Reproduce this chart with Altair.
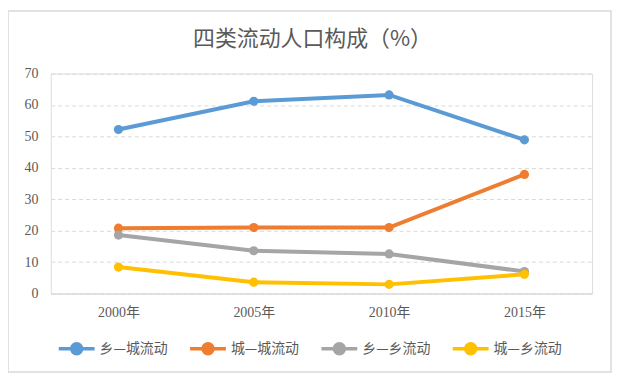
import altair as alt
import pandas as pd

years = ["2000年", "2005年", "2010年", "2015年"]
series = ["乡—城流动", "城—城流动", "乡—乡流动", "城—乡流动"]
rural_urban = [52.2, 61.2, 63.2, 48.9]
urban_urban = [20.8, 21.0, 21.0, 37.9]
rural_rural = [18.6, 13.6, 12.6, 7.0]
urban_rural = [8.4, 3.6, 2.9, 6.1]
colors = ["#5B9BD5", "#ED7D31", "#A5A5A5", "#FFC000"]
y_ticks = [0, 10, 20, 30, 40, 50, 60, 70]

rows = []
for name, vals in zip(series, [rural_urban, urban_urban, rural_rural, urban_rural]):
    for yr, v in zip(years, vals):
        rows.append({"year": yr, "series": name, "value": v})
df = pd.DataFrame(rows)

W, H = 544, 221
num_font = "Liberation Serif, Noto Sans CJK SC"
cjk_font = "Noto Sans CJK SC"
text_color = "#595959"

color_scale = alt.Scale(domain=series, range=colors)

x_enc = alt.X("year:N", sort=years, title=None,
              scale=alt.Scale(paddingInner=0, paddingOuter=0.5),
              axis=alt.Axis(labelAngle=0, ticks=False, domainColor="#D9D9D9",
                            domainWidth=1.2, labelFont=num_font, labelFontSize=14,
                            labelColor=text_color, labelPadding=12, grid=False))
y_enc = alt.Y("value:Q", title=None,
              scale=alt.Scale(domain=[0, 70], nice=False),
              axis=alt.Axis(values=y_ticks, ticks=False, domain=False,
                            grid=True, gridColor="#D9D9D9", gridDash=[4, 3],
                            gridWidth=1, labelFont=num_font, labelFontSize=14,
                            labelColor=text_color, labelPadding=13))

legend = alt.Legend(
    title=None, orient="none", direction="horizontal", legendX=6, legendY=256,
    symbolType="M-1,0L1,0M-0.28,0a0.28,0.28 0 1,0 0.56,0a0.28,0.28 0 1,0 -0.56,0",
    symbolSize=1296, symbolStrokeWidth=3.5, labelFont=cjk_font, labelFontSize=14,
    labelColor=text_color, labelOffset=3, columnPadding=15, labelLimit=200,
)

lines = alt.Chart(df).mark_line(
    strokeWidth=4, point=alt.OverlayMarkDef(filled=True, size=85)
).encode(
    x=x_enc, y=y_enc,
    color=alt.Color("series:N", scale=color_scale, sort=series, legend=legend),
)

border = alt.Chart(pd.DataFrame({"a": [0]})).mark_rect(
    fill=None, stroke="#D9D9D9", strokeWidth=1.5
).encode(x=alt.value(-43), x2=alt.value(563), y=alt.value(-63), y2=alt.value(300))

chart = alt.layer(border, lines).properties(
    width=W, height=H,
    title=alt.TitleParams("四类流动人口构成（%）", font=cjk_font, fontSize=22,
                          fontWeight="normal", color=text_color, anchor="middle",
                          frame="group", offset=-41, dx=-9),
    autosize=alt.AutoSizeParams(type="none"),
    padding={"left": 43, "top": 65, "right": 20, "bottom": 80},
).configure_view(stroke=None).configure(background="white")

chart.save("out.html", embed_options={"renderer": "svg", "actions": False})
